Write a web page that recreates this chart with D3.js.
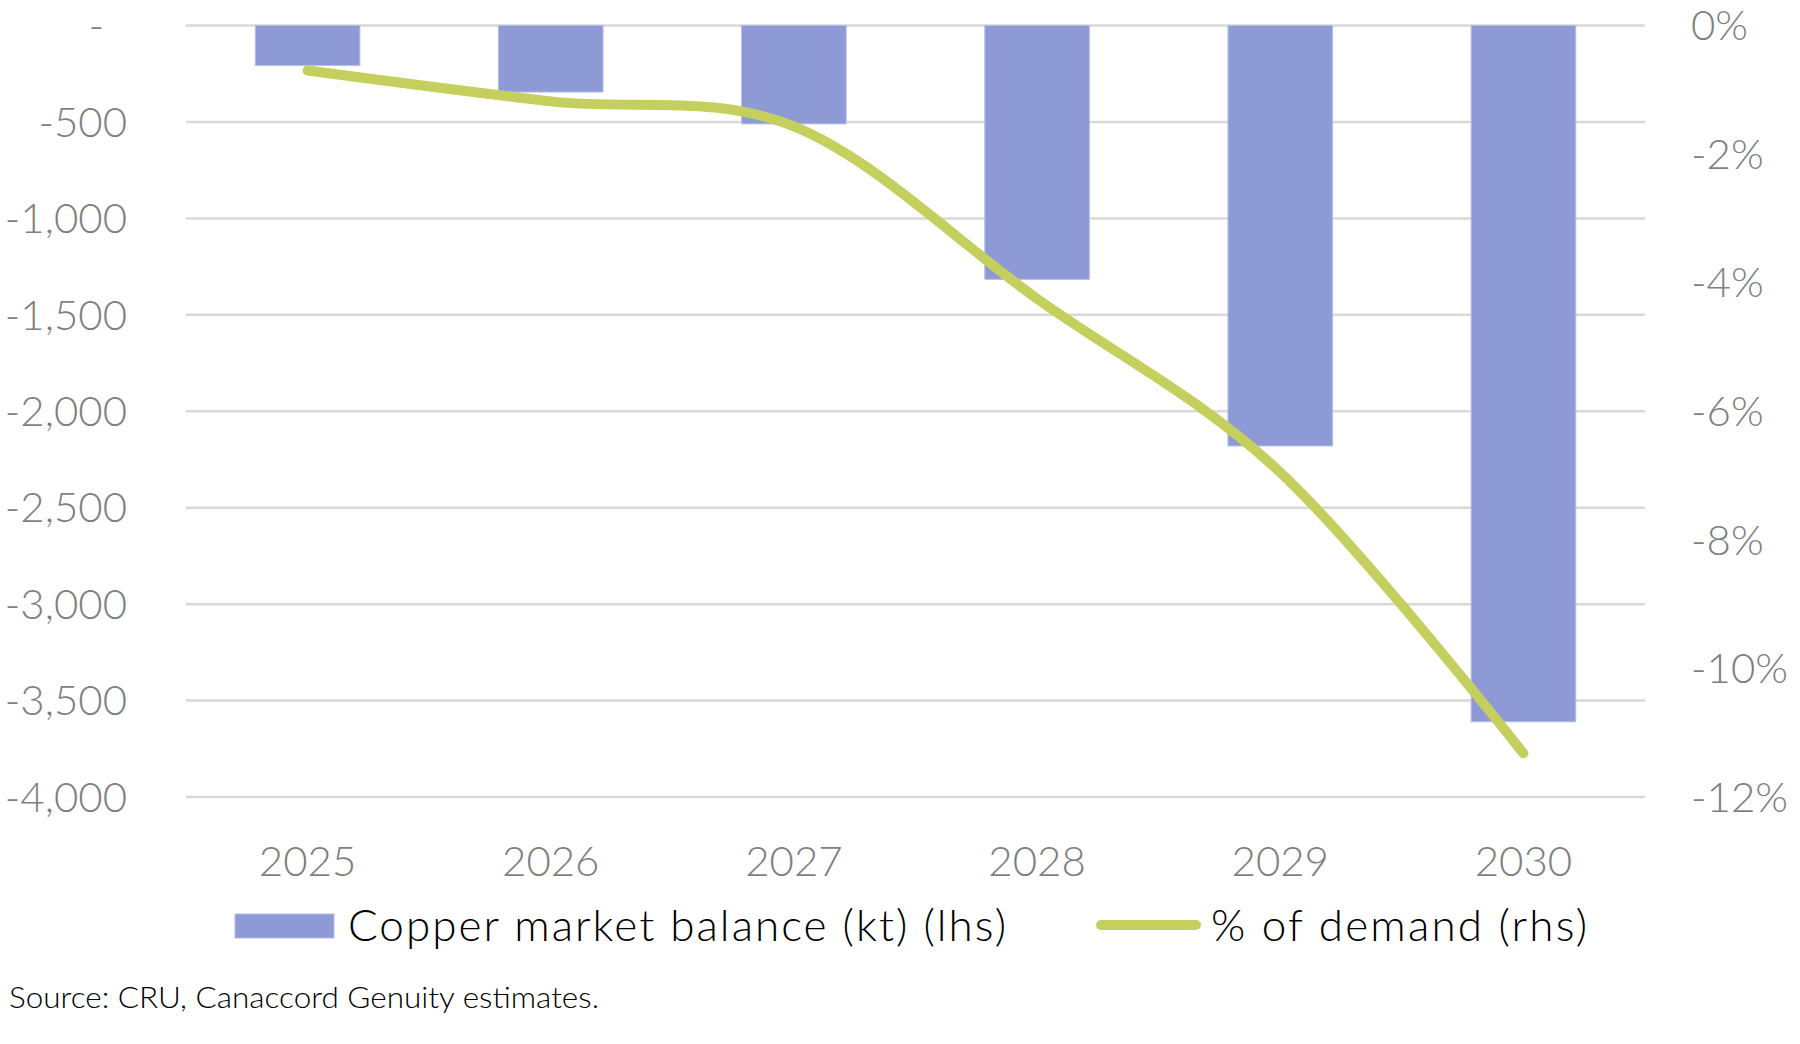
<!DOCTYPE html>
<html>
<head>
<meta charset="utf-8">
<script src="https://cdn.jsdelivr.net/npm/d3@7"></script>
<style>
  html, body { margin: 0; padding: 0; background: #fff; }
  svg { display: block; }
</style>
</head>
<body>
<svg id="chart" width="1800" height="1044"></svg>
<script>
// ---- data ----
const years = ["2025", "2026", "2027", "2028", "2029", "2030"];
const balanceKt = [-207, -345, -510, -1316, -2180, -3610];
const pctDemand = [-0.7, -1.18, -1.57, -4.25, -6.95, -11.32];
const leftTicks = [0, -500, -1000, -1500, -2000, -2500, -3000, -3500, -4000];
const rightTicks = [0, -2, -4, -6, -8, -10, -12];
const barLabel = "Copper market balance (kt) (lhs)";
const lineLabel = "% of demand (rhs)";
const sourceText = "Source: CRU, Canaccord Genuity estimates.";

// ---- layout ----
const svg = d3.select("#chart");
const plot = { left: 186, right: 1645, top: 25.5, bottom: 797 };
const font = "Lato, 'Open Sans', sans-serif";
const loc = d3.formatLocale({ decimal: ".", thousands: ",", grouping: [3], currency: ["", ""], minus: "-" });
const fmt = loc.format(",");

const x = d3.scaleBand().domain(years).range([plot.left, plot.right])
  .paddingInner(0.57).paddingOuter(0.285);
const yL = d3.scaleLinear().domain([0, -4000]).range([plot.top, plot.bottom]);
const yR = d3.scaleLinear().domain([0, -12]).range([plot.top, plot.bottom]);

// gridlines
svg.append("g").selectAll("line").data(leftTicks).join("line")
  .attr("x1", plot.left).attr("x2", plot.right)
  .attr("y1", d => yL(d)).attr("y2", d => yL(d))
  .attr("stroke", "#d9d9d9").attr("stroke-width", 2.5);

// left axis
const leftAxis = d3.axisLeft(yL).tickValues(leftTicks)
  .tickFormat(d => d === 0 ? "-" : fmt(d)).tickSize(0).tickPadding(0);
const gL = svg.append("g").attr("transform", `translate(127,0)`).call(leftAxis);
gL.select(".domain").remove();
gL.selectAll("text").attr("font-family", font).attr("font-weight", 300)
  .attr("font-size", 42).attr("fill", "#7f7f7f").attr("dy", "0.34em")
  .attr("dx", d => d === 0 ? -23 : 0);

// right axis
const rightAxis = d3.axisRight(yR).tickValues(rightTicks)
  .tickFormat(d => fmt(d) + "%").tickSize(0).tickPadding(0);
const gR = svg.append("g").attr("transform", `translate(1691,0)`).call(rightAxis);
gR.select(".domain").remove();
gR.selectAll("text").attr("font-family", font).attr("font-weight", 300)
  .attr("font-size", 42).attr("fill", "#7f7f7f").attr("dy", "0.34em");

// bottom axis labels
const bottomAxis = d3.axisBottom(x).tickSize(0).tickPadding(0);
const gB = svg.append("g").attr("transform", `translate(0,862)`).call(bottomAxis);
gB.select(".domain").remove();
gB.selectAll("text").attr("font-family", font).attr("font-weight", 300)
  .attr("font-size", 42).attr("fill", "#7f7f7f").attr("dy", "0.34em");

// bars
svg.append("g").selectAll("rect").data(years).join("rect")
  .attr("x", d => x(d))
  .attr("width", x.bandwidth())
  .attr("y", yL(0))
  .attr("height", (d, i) => yL(balanceKt[i]) - yL(0))
  .attr("fill", "#8d9ad5")
  .attr("stroke", "#b4bde6").attr("stroke-width", 1);

// line
const line = d3.line()
  .x((d, i) => x(years[i]) + x.bandwidth() / 2)
  .y(d => yR(d))
  .curve(d3.curveCatmullRom.alpha(0));
svg.append("path").datum(pctDemand)
  .attr("d", line)
  .attr("fill", "none")
  .attr("stroke", "#c5cf5e")
  .attr("stroke-width", 10)
  .attr("stroke-linecap", "round")
  .attr("stroke-linejoin", "round");

// legend
const lg = svg.append("g");
lg.append("rect").attr("x", 235).attr("y", 914).attr("width", 99).attr("height", 24)
  .attr("fill", "#8d9ad5").attr("stroke", "#b4bde6").attr("stroke-width", 1);
lg.append("text").attr("x", 348).attr("y", 926).attr("dy", "0.34em")
  .attr("font-family", font).attr("font-weight", 300).attr("font-size", 44)
  .attr("fill", "#000").attr("textLength", 658).attr("lengthAdjust", "spacing")
  .text(barLabel);
lg.append("line").attr("x1", 1101).attr("x2", 1196).attr("y1", 925).attr("y2", 925)
  .attr("stroke", "#c5cf5e").attr("stroke-width", 10).attr("stroke-linecap", "round");
lg.append("text").attr("x", 1211).attr("y", 926).attr("dy", "0.34em")
  .attr("font-family", font).attr("font-weight", 300).attr("font-size", 44)
  .attr("fill", "#000").attr("textLength", 376).attr("lengthAdjust", "spacing")
  .text(lineLabel);

// source
svg.append("text").attr("x", 9).attr("y", 998).attr("dy", "0.34em")
  .attr("font-family", font).attr("font-weight", 300).attr("font-size", 30)
  .attr("fill", "#000").attr("textLength", 590).attr("lengthAdjust", "spacingAndGlyphs")
  .text(sourceText);
</script>
</body>
</html>
